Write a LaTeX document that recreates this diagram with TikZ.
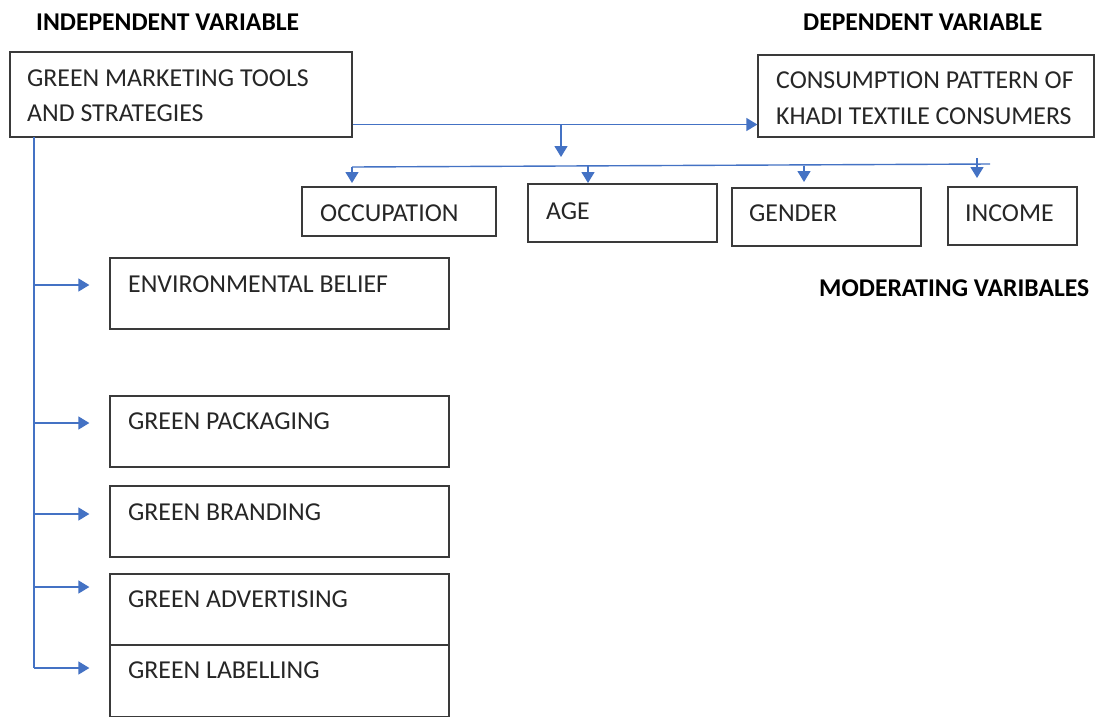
\documentclass[tikz,border=0pt]{standalone}
\usepackage{fontspec}
\setmainfont{Carlito}
\usetikzlibrary{arrows.meta}
\definecolor{conn}{HTML}{4472C4}
\definecolor{boxline}{HTML}{3A3A3A}
\definecolor{txt}{HTML}{262626}
\tikzset{
  box/.style={draw=boxline, line width=1.3pt, inner sep=0pt},
  lbl/.style={anchor=west, inner sep=0pt, text=txt, font=\fontsize{25.8}{30}\selectfont},
  head/.style={anchor=west, inner sep=0pt, text=black, font=\fontsize{25.6}{30}\selectfont\bfseries},
  cline/.style={draw=conn, line width=1.4pt},
  arr/.style={cline, -{Triangle[length=11pt,width=13pt]}},
}
\begin{document}
\begin{tikzpicture}[x=1pt,y=-1pt]
\useasboundingbox (0,0) rectangle (1096,716);
\fill[white] (0,0) rectangle (1096,716);
% headings
\node[head] (hind) at (36,22) {INDEPENDENT VARIABLE};
\node[head] (hdep) at (803,22) {DEPENDENT VARIABLE};
\node[head] (hmod) at (819,288) {MODERATING VARIBALES};
% boxes
\node[box, minimum width=342pt, minimum height=85pt] (gm) at (181,94.5) {};
\node[lbl] (gmt1) at (27,78) {GREEN MARKETING TOOLS};
\node[lbl] (gmt2) at (27,113) {AND STRATEGIES};
\node[box, minimum width=336pt, minimum height=82pt] (cpk) at (926,96) {};
\node[lbl] (cpk1) at (776,80) {CONSUMPTION PATTERN OF};
\node[lbl] (cpk2) at (776,116) {KHADI TEXTILE CONSUMERS};
\node[box, minimum width=194pt, minimum height=49pt] (occ) at (399,211.5) {};
\node[lbl] at (320,213) {OCCUPATION};
\node[box, minimum width=189pt, minimum height=58pt] (age) at (622.5,213) {};
\node[lbl] at (546,211) {AGE};
\node[box, minimum width=189pt, minimum height=58pt] (gen) at (826.5,217) {};
\node[lbl] at (749,213) {GENDER};
\node[box, minimum width=129pt, minimum height=58pt] (inc) at (1012.5,216) {};
\node[lbl] at (965,213) {INCOME};
\node[box, minimum width=339pt, minimum height=71pt] (env) at (279.5,293.5) {};
\node[lbl] at (128,284) {ENVIRONMENTAL BELIEF};
\node[box, minimum width=339pt, minimum height=71pt] (pack) at (279.5,431.5) {};
\node[lbl] at (128,421) {GREEN PACKAGING};
\node[box, minimum width=339pt, minimum height=71pt] (brand) at (279.5,521.5) {};
\node[lbl] at (128,512) {GREEN BRANDING};
\node[box, minimum width=339pt, minimum height=71pt] (adv) at (279.5,609.5) {};
\node[lbl] at (128,599) {GREEN ADVERTISING};
\node[box, minimum width=339pt, minimum height=72pt] (lab) at (279.5,681) {};
\node[lbl] at (128,670) {GREEN LABELLING};
% connectors
\coordinate (j1) at (561,124.5);
\coordinate (j1e) at (561,157);
\draw[arr] (gm.east |- j1) -- (cpk.west |- j1);
\draw[arr] (j1) -- (j1e);
\coordinate (bL) at (352,167);
\coordinate (bR) at (990,164);
\draw[cline] (bL) -- (bR);
\coordinate (a2) at (588,166.2);
\coordinate (a3) at (804,165.5);
\coordinate (a4) at (977,158);
\draw[arr] (bL) -- (352,183);
\draw[arr] (a2) -- (588,183);
\draw[arr] (a3) -- (804,182);
\draw[arr] (a4) -- (977,178);
% trunk
\coordinate (t0) at (34,137);
\coordinate (t1) at (34,668);
\draw[cline] (t0) -- (t1);
\draw[arr, shorten >=20pt] (34,285) -- (env.west |- 0,285);
\draw[arr, shorten >=20pt] (34,423) -- (pack.west |- 0,423);
\draw[arr, shorten >=20pt] (34,514) -- (brand.west |- 0,514);
\draw[arr, shorten >=20pt] (34,587) -- (adv.west |- 0,587);
\draw[arr, shorten >=20pt] (t1) -- (lab.west |- t1);
\end{tikzpicture}
\end{document}
